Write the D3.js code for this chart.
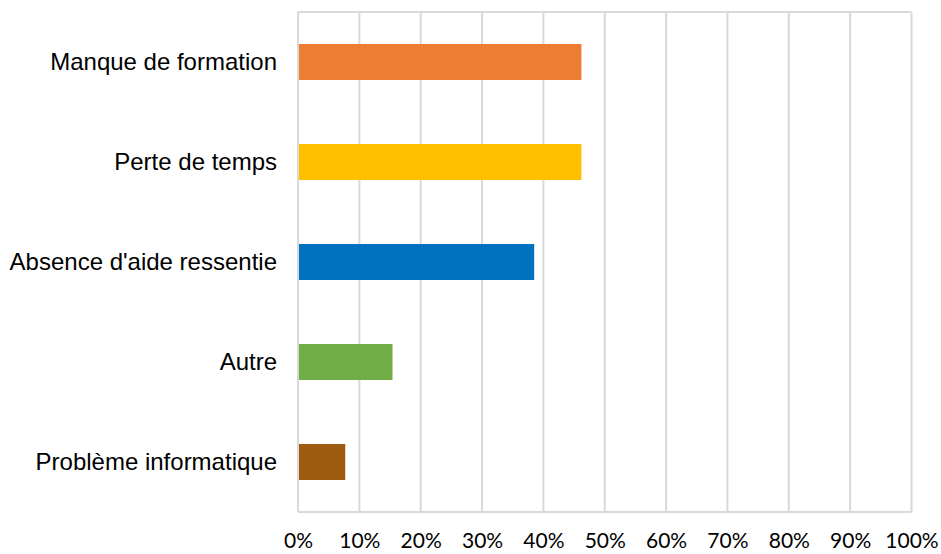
<!DOCTYPE html>
<html lang="fr">
<head>
<meta charset="UTF-8">
<title>Freins</title>
<script src="https://cdnjs.cloudflare.com/ajax/libs/d3/7.8.5/d3.min.js"></script>
<style>
  body { margin: 0; background: #fff; }
  .cat text { font-family: "Liberation Sans", Arial, sans-serif; font-size: 24px; fill: #000; }
  .xax text { font-family: Lato, "Open Sans", sans-serif; font-size: 21px; fill: #000; }
</style>
</head>
<body>
<svg width="941" height="554"></svg>
<script>
var categories = ["Manque de formation", "Perte de temps", "Absence d'aide ressentie", "Autre", "Problème informatique"];
var values = [0.462, 0.462, 0.385, 0.154, 0.077];
var colors = ["#ED7D31", "#FFC000", "#0070C0", "#70AD47", "#9E5A0F"];
var ticks = [0, 0.1, 0.2, 0.3, 0.4, 0.5, 0.6, 0.7, 0.8, 0.9, 1];

var margin = {top: 12, right: 30, bottom: 42, left: 298};
var svg = d3.select("svg");
var w = 941 - margin.left - margin.right,
    h = 554 - margin.top - margin.bottom;

var g = svg.append("g").attr("transform", "translate(" + margin.left + "," + margin.top + ")");

var x = d3.scaleLinear().domain([0, 1]).range([0, w + 0.5]);
var y = d3.scaleBand().domain(categories).range([0, h]).paddingInner(0.64).paddingOuter(0.32);

// grid
g.selectAll(".grid").data(ticks).enter().append("line")
    .attr("x1", function (d) { return x(d); })
    .attr("x2", function (d) { return x(d); })
    .attr("y1", 0).attr("y2", h)
    .attr("stroke", "#d9d9d9").attr("stroke-width", 2);
g.append("line").attr("x1", 0).attr("x2", x(1)).attr("y1", 0).attr("y2", 0)
    .attr("stroke", "#d9d9d9").attr("stroke-width", 2);
g.append("line").attr("x1", 0).attr("x2", x(1)).attr("y1", h).attr("y2", h)
    .attr("stroke", "#d9d9d9").attr("stroke-width", 2);

// bars
g.selectAll(".bar").data(values).enter().append("rect")
    .attr("x", x(0) + 1)
    .attr("y", function (d, i) { return y(categories[i]); })
    .attr("width", function (d) { return x(d) - x(0) - 1; })
    .attr("height", y.bandwidth())
    .attr("fill", function (d, i) { return colors[i]; });

// category labels
var yAxis = g.append("g").attr("class", "cat")
    .call(d3.axisLeft(y).tickSize(0).tickPadding(21));
yAxis.select(".domain").remove();

// x labels
var xAxis = g.append("g").attr("class", "xax")
    .attr("transform", "translate(0," + h + ")")
    .call(d3.axisBottom(x).tickValues(ticks).tickSize(0).tickPadding(21).tickFormat(d3.format(".0%")));
xAxis.select(".domain").remove();
</script>
</body>
</html>
